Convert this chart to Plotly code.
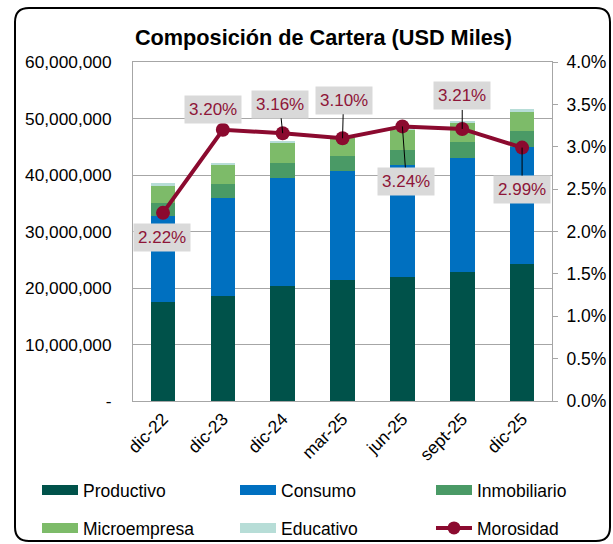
import plotly.graph_objects as go

categories = ["dic-22", "dic-23", "dic-24", "mar-25", "jun-25", "sept-25", "dic-25"]
productivo = [17.6e6, 18.65e6, 20.4e6, 21.4e6, 22.0e6, 22.8e6, 24.2e6]
consumo = [15.1e6, 17.25e6, 19.1e6, 19.3e6, 19.7e6, 20.2e6, 20.8e6]
inmobiliario = [2.4e6, 2.5e6, 2.7e6, 2.6e6, 2.8e6, 2.8e6, 2.8e6]
microempresa = [3.1e6, 3.4e6, 3.6e6, 3.3e6, 3.6e6, 3.5e6, 3.5e6]
educativo = [0.3e6, 0.3e6, 0.2e6, 0.2e6, 0.2e6, 0.2e6, 0.3e6]
morosidad = [0.0222, 0.0320, 0.0316, 0.0310, 0.0324, 0.0321, 0.0299]

left_tickvals = [0, 10e6, 20e6, 30e6, 40e6, 50e6, 60e6]
left_ticktext = ["-", "10,000,000", "20,000,000", "30,000,000", "40,000,000", "50,000,000", "60,000,000"]
right_tickvals = [0, 0.005, 0.01, 0.015, 0.02, 0.025, 0.03, 0.035, 0.04]

# label offsets (pixels) for data labels and whether leader line shows
label_dx = [-1, -10, -3, 1, 4, 0, 0]
label_dy = [25, -20, -29, -38, 55, -33, 42]
label_line = [False, False, True, True, True, True, True]

FONT = "Liberation Sans, Arial, sans-serif"
W, H = 613, 544
L, R, T, B = 133, 61, 62, 143
PW, PH = W - L - R, H - T - B

colors = {
    "Productivo": "#00524A",
    "Consumo": "#0070C0",
    "Inmobiliario": "#4A9A66",
    "Microempresa": "#7DBB69",
    "Educativo": "#B7DDD7",
}
MOR_COLOR = "#8B0A2F"
LABEL_COLOR = "#8E1538"

def px2paper(px, py):
    return (px - L) / PW, (H - B - py) / PH

fig = go.Figure()
series = [("Productivo", productivo), ("Consumo", consumo), ("Inmobiliario", inmobiliario),
          ("Microempresa", microempresa), ("Educativo", educativo)]
for name, vals in series:
    fig.add_trace(go.Bar(x=categories, y=vals, name=name, marker_color=colors[name],
                         marker_line_width=0, showlegend=False, yaxis="y"))

fig.add_trace(go.Scatter(x=categories, y=morosidad, name="Morosidad", mode="lines+markers",
                         line=dict(color=MOR_COLOR, width=4),
                         marker=dict(color=MOR_COLOR, size=14),
                         showlegend=False, yaxis="y2"))

# legend entries (wide swatches), one legend box per grid cell
legend_cells = [(37, 490), (235, 490), (431, 490), (37, 528), (235, 528), (431, 528)]
legend_ids = ["legend", "legend2", "legend3", "legend4", "legend5", "legend6"]
for k, (name, _) in enumerate(series):
    fig.add_trace(go.Scatter(x=[None], y=[None], mode="lines", name=name,
                             line=dict(color=colors[name], width=10),
                             legend=legend_ids[k], yaxis="y"))
fig.add_trace(go.Scatter(x=[None], y=[None], mode="lines+markers", name="Morosidad",
                         line=dict(color=MOR_COLOR, width=4),
                         marker=dict(color=MOR_COLOR, size=13),
                         legend=legend_ids[5], yaxis="y2"))

legend_layout = {}
for lid, (cx, cy) in zip(legend_ids, legend_cells):
    lx, ly = px2paper(cx, cy)
    legend_layout[lid] = dict(x=lx, y=ly, xref="paper", yref="paper",
                              xanchor="left", yanchor="middle", itemwidth=36,
                              font=dict(family=FONT, size=17.5), bgcolor="rgba(0,0,0,0)")

for i, (c, v) in enumerate(zip(categories, morosidad)):
    fig.add_annotation(x=c, y=v, xref="x", yref="y2", text=f"{v*100:.2f}%",
                       showarrow=True, arrowhead=0, arrowwidth=1,
                       arrowcolor="black" if label_line[i] else "rgba(0,0,0,0)",
                       ax=label_dx[i], ay=label_dy[i], standoff=0,
                       bgcolor="#D9D9D9", borderpad=4,
                       font=dict(family=FONT, size=17, color=LABEL_COLOR))

# rounded outer border
x0, y0, x1, y1, r = 15, 8, 610, 541, 14
def P(px, py):
    a, b = px2paper(px, py)
    return f"{a:.5f},{b:.5f}"
path = (f"M{P(x0 + r, y0)} L{P(x1 - r, y0)} Q{P(x1, y0)} {P(x1, y0 + r)} "
        f"L{P(x1, y1 - r)} Q{P(x1, y1)} {P(x1 - r, y1)} L{P(x0 + r, y1)} "
        f"Q{P(x0, y1)} {P(x0, y1 - r)} L{P(x0, y0 + r)} Q{P(x0, y0)} {P(x0 + r, y0)} Z")
fig.add_shape(type="path", path=path, xref="paper", yref="paper",
              line=dict(color="black", width=2), layer="below")

GRID = "#A6A6A6"
fig.update_layout(
    width=W, height=H,
    margin=dict(l=L, r=R, t=T, b=B, autoexpand=False),
    paper_bgcolor="white", plot_bgcolor="white",
    font=dict(family=FONT, size=17.5, color="black"),
    barmode="stack", bargap=0.59,
    title=dict(text="<b>Composición de Cartera (USD Miles)</b>",
               font=dict(family=FONT, size=21.7, color="black"),
               x=323.5 / W, xref="container", xanchor="center",
               y=1 - 37 / H, yref="container", yanchor="middle"),
    xaxis=dict(type="category", tickangle=-45, showline=True, linecolor=GRID, linewidth=1,
               mirror=True, ticks="", showgrid=False,
               tickfont=dict(family=FONT, size=17.5)),
    yaxis=dict(range=[0, 60e6], tickvals=left_tickvals, ticktext=left_ticktext,
               showgrid=True, gridcolor=GRID, gridwidth=1, showline=True,
               linecolor=GRID, linewidth=1, ticks="", ticklabelstandoff=17,
               zeroline=False, tickfont=dict(family=FONT, size=17.3)),
    yaxis2=dict(range=[0, 0.04], tickvals=right_tickvals, tickformat=".1%",
                overlaying="y", side="right", showgrid=False, showline=True,
                linecolor=GRID, linewidth=1, ticks="outside", ticklen=5,
                tickcolor=GRID, zeroline=False, ticklabelstandoff=5,
                tickfont=dict(family=FONT, size=17.5)),
    **legend_layout,
)

fig.write_html("out.html", config={"displayModeBar": False},
               post_script="document.body.style.margin='0';")
